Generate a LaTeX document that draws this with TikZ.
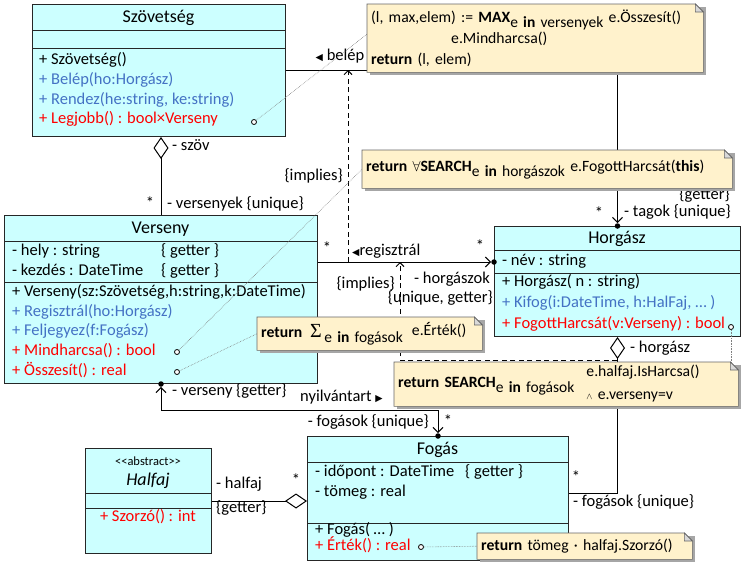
\documentclass[tikz,border=0pt]{standalone}
\usepackage{amsmath}
\usepackage{fontspec}
\setmainfont{Carlito}
\newfontfamily\symfont{DejaVu Sans}
\newfontfamily\sigmafont{Liberation Serif}
\usepackage{tikz}
\usetikzlibrary{positioning,arrows.meta,calc}

\definecolor{umlcyan}{RGB}{204,255,255}
\definecolor{noteyel}{RGB}{255,242,204}
\definecolor{umlblue}{RGB}{68,114,196}
\definecolor{umlred}{RGB}{255,0,0}

\newcommand{\lowsub}[1]{\raisebox{-5pt}{\fontsize{15.5}{16}\selectfont #1}}
\newcommand{\ltri}{{\symfont\fontsize{9.5}{9.5}\selectfont ◀}}
\newcommand{\rtri}{{\symfont\fontsize{9.5}{9.5}\selectfont ▶}}
\newcommand{\bigsigma}{{\sigmafont\fontsize{20}{20}\selectfont Σ}}

\pgfdeclarelayer{notebg}
\pgfdeclarelayer{front}
\pgfsetlayers{main,notebg,front}

\begin{document}
\begin{tikzpicture}[
    x=1pt, y=-1pt,
    font=\fontsize{16.5}{19}\selectfont,
    classbox/.style={draw=black!85, line width=1pt, fill=umlcyan, anchor=north west, inner sep=0pt},
    classline/.style={draw=black!85, line width=1pt},
    ctitle/.style={font=\fontsize{18}{20}\selectfont, inner sep=0pt},
    member/.style={anchor=west, inner sep=0pt, text height=11pt, text depth=3.5pt},
    lbl/.style={inner sep=0pt, text height=11pt, text depth=3.5pt},
    assoc/.style={line width=1pt},
    nav/.style={-{Straight Barb[length=5pt,width=10pt]}},
    navboth/.style={{Straight Barb[length=5pt,width=10pt]}-{Straight Barb[length=5pt,width=10pt]}},
    aggr/.style={{Diamond[open,length=22pt,width=15pt]}-},
    implies/.style={line width=1pt, dash pattern=on 5pt off 3.5pt, -{Straight Barb[length=4pt,width=8pt]}},
    ownerdot/.style={circle, fill, inner sep=0pt, minimum size=5.5pt},
    opcirc/.style={circle, draw, line width=0.8pt, fill=white, inner sep=0pt, minimum size=5pt},
    notelink/.style={densely dotted, gray, line width=0.6pt},
    notebox/.style={anchor=north west, inner xsep=4pt, inner ysep=0pt, align=left, font=\fontsize{15.7}{21}\selectfont},
    noteshape/.style={draw=black!60, line width=0.6pt, fill=noteyel},
]
\useasboundingbox (0,0) rectangle (746,573);

% classes
\node[classbox, minimum width=253pt, minimum height=132pt] (szov) at (32,4) {};
\draw[classline] ([yshift=-26pt]szov.north west) -- ([yshift=-26pt]szov.north east);
\draw[classline] ([yshift=-44pt]szov.north west) -- ([yshift=-44pt]szov.north east);
\node[ctitle] (szovT) at (158.5,18) {Szövetség};
\node[member] (szovM1) at (39,61) {+ Szövetség()};
\node[member, text=umlblue] (szovM2) at (39,81) {+ Belép(ho:Horgász)};
\node[member, text=umlblue] (szovM3) at (39,101) {+ Rendez(he:string,\ ke:string)};
\node[member, text=umlred] (szovM4) at (39,120) {+ Legjobb() : bool×Verseny};
\node[opcirc] (cLegjobb) at (254,122) {};

\node[classbox, minimum width=313pt, minimum height=168pt] (vers) at (4,215) {};
\draw[classline] ([yshift=-26pt]vers.north west) -- ([yshift=-26pt]vers.north east);
\draw[classline] ([yshift=-67pt]vers.north west) -- ([yshift=-67pt]vers.north east);
\node[ctitle] (versT) at (160.5,229) {Verseny};
\node[member] (versA1) at (12,252) {- hely : string};
\node[member] (versA1g) at (161,252) {\{ getter \}};
\node[member] (versA2) at (12,272) {- kezdés : DateTime};
\node[member] (versA2g) at (161,272) {\{ getter \}};
\node[member] (versM1) at (12,293) {+ Verseny(sz:Szövetség,h:string,k:DateTime)};
\node[member, text=umlblue] (versM2) at (12,313) {+ Regisztrál(ho:Horgász)};
\node[member, text=umlblue] (versM3) at (12,332) {+ Feljegyez(f:Fogász)};
\node[member, text=umlred] (versM4) at (12,352) {+ Mindharcsa() : bool};
\node[member, text=umlred] (versM5) at (12,372) {+ Összesít() : real};
\node[opcirc] (cMind) at (177,352) {};
\node[opcirc] (cOssz) at (177,372) {};

\node[classbox, minimum width=246pt, minimum height=110pt] (horg) at (494,226) {};
\draw[classline] ([yshift=-24pt]horg.north west) -- ([yshift=-24pt]horg.north east);
\draw[classline] ([yshift=-47pt]horg.north west) -- ([yshift=-47pt]horg.north east);
\node[ctitle] (horgT) at (617,239) {Horgász};
\node[member] (hnev) at (502,262) {- név : string};
\node[member] (horgM1) at (502,283) {+ Horgász( n : string)};
\node[member, text=umlblue] (horgM2) at (502,304) {+ Kifog(i:DateTime, h:HalFaj, … )};
\node[member, text=umlred] (horgM3) at (502,325) {+ FogottHarcsát(v:Verseny) : bool};
\node[opcirc] (cFogott) at (731,327) {};

\node[classbox, minimum width=261pt, minimum height=124pt] (fog) at (307,436) {};
\draw[classline] ([yshift=-26pt]fog.north west) -- ([yshift=-26pt]fog.north east);
\draw[classline] ([yshift=-87pt]fog.north west) -- ([yshift=-87pt]fog.north east);
\node[ctitle] (fogT) at (437.5,450) {Fogás};
\node[member] (fogA1) at (315,473) {- időpont : DateTime};
\node[member] (fogA1g) at (465,473) {\{ getter \}};
\node[member] (ftomeg) at (315,493) {- tömeg : real};
\node[member] (fogM1) at (315,531) {+ Fogás( … )};
\node[member, text=umlred] (fogM2) at (315,547) {+ Érték() : real};
\node[opcirc] (cErtek) at (421,547) {};

\node[classbox, minimum width=126pt, minimum height=105pt] (half) at (85,448) {};
\draw[classline] ([yshift=-45pt]half.north west) -- ([yshift=-45pt]half.north east);
\draw[classline] ([yshift=-60pt]half.north west) -- ([yshift=-60pt]half.north east);
\node[inner sep=0pt, font=\fontsize{12.5}{14}\selectfont] (halfS) at (148,461) {{<}{<}abstract{>}{>}};
\node[ctitle] (halfT) at (148,481) {\textit{Halfaj}};
\node[lbl, text=umlred] (halfM1) at (148,518) {+ Szorzó() : int};

% notes
\begin{pgfonlayer}{front}
\node[notebox, text width=328pt, minimum height=68pt] (nmax) at (367,4)
  {(l, max,elem) := \textbf{MAX}\lowsub{e \textbf{in} versenyek} e.Összesít()\\
   \hspace*{80pt}e.Mindharcsa()\\
   \textbf{return} (l, elem)};
\node[notebox, text width=362pt, minimum height=38pt] (nall) at (362,150)
  {\textbf{return} $\forall$\textbf{SEARCH}\lowsub{e \textbf{in} horgászok} e.FogottHarcsát(\textbf{this})};
\node[notebox, text width=217pt, minimum height=33pt] (nsum) at (257,317)
  {\textbf{return}\, \bigsigma\lowsub{\,e \textbf{in} fogások}\hspace{9pt}\raisebox{2pt}{e.Érték()}};
\node[notebox, text width=336pt, minimum height=44pt] (nsrch) at (394,362)
  {\textbf{return SEARCH}\lowsub{e \textbf{in} fogások}\hspace{12pt}\begin{tabular}{@{}l@{}}e.halfaj.IsHarcsa()\\[2pt] {\small$\wedge$} e.verseny=v\end{tabular}};
\node[notebox, text width=207pt, minimum height=26pt] (nert) at (477,533)
  {\textbf{return} tömeg · halfaj.Szorzó()};
\end{pgfonlayer}

\begin{pgfonlayer}{notebg}
\foreach \n in {nmax,nall,nsum,nsrch,nert}{
  \fill[black!35] ([shift={(3pt,-3pt)}]\n.south west) rectangle ([shift={(3pt,-3pt)}]\n.north east);
  \filldraw[noteshape] (\n.south west) -- (\n.north west) -- ([xshift=-8pt]\n.north east)
     -- ([yshift=-8pt]\n.north east) -- (\n.south east) -- cycle;
  \filldraw[noteshape, fill=black!15] ([xshift=-8pt]\n.north east) |- ([yshift=-8pt]\n.north east) -- cycle;
}
\end{pgfonlayer}

% associations
\node[ownerdot] (dTagok) at (horg.north) {};
\draw[assoc, nav] (szov.east) -| (dTagok.north);
\node[lbl] (lBelep) at (340,57) {\ltri\ belép};
\node[lbl, anchor=east] (lGetter1) at (730,196) {\{getter\}};
\node[lbl, anchor=west] (lTagok) at (624,213) {- tagok \{unique\}};
\node[lbl] (sTagok) at (599,215) {*};

\draw[assoc, aggr] (vers.north |- szov.south) -- (vers.north);
\node[lbl, anchor=west] (lSzov) at (172,147) {- szöv};
\node[lbl] (sVersenyek) at (150,205) {*};
\node[lbl, anchor=west] (lVersenyek) at (167,205) {- versenyek \{unique\}};

\node[ownerdot] (dHorg) at (horg.west |- hnev) {};
\draw[assoc, nav] (vers.east |- dHorg) -- (dHorg.west);
\node[lbl] (sReg1) at (327,250) {*};
\node[lbl, anchor=west] (lReg) at (352,252) {\ltri regisztrál};
\node[lbl] (sReg2) at (480,248) {*};
\node[lbl, anchor=east] (lHorgaszok) at (490,280) {- horgászok};
\node[lbl, anchor=east] (lHorgaszok2) at (493,299) {\{unique, getter\}};

\draw[assoc, aggr] (horg.south) |- (fog.east |- ftomeg);
\node[lbl, anchor=west] (lHorgasz) at (630,349) {- horgász};
\node[lbl] (sFog1) at (576,479) {*};
\node[lbl, anchor=west] (lFog1) at (573,503) {- fogások \{unique\}};

\draw[assoc, aggr] (fog.west |- half.east) -- (half.east);
\node[lbl, anchor=west] (lHalfaj) at (216,485) {- halfaj};
\node[lbl, anchor=west] (lHalfaj2) at (216,509) {\{getter\}};
\node[lbl] (sHalfaj) at (296,482) {*};

\node[ownerdot] (dVers) at (vers.south) {};
\node[ownerdot] (dFog) at (fog.north) {};
\draw[assoc, navboth] (dVers.south) -- (dVers |- 0,410) -| (dFog.north);
\node[lbl, anchor=west] (lVerseny) at (172,392) {- verseny \{getter\}};
\node[lbl, anchor=west] (lNyilv) at (300,398) {nyilvántart \rtri};
\node[lbl, anchor=east] (lFog2) at (429,423) {- fogások \{unique\}};
\node[lbl] (sFog2) at (448,423) {*};

% constraints
\coordinate (impRegA) at (348,262);
\coordinate (impBelA) at (348,70);
\draw[implies] (impRegA) -- (impBelA);
\node[lbl, anchor=east] (lImp1) at (343,177) {\{implies\}};
\coordinate (impHF) at (617,360);
\coordinate (impRegB) at (400,262);
\draw[implies] (impHF) -| (impRegB);
\node[lbl, anchor=east] (lImp2) at (395,285) {\{implies\}};

% note links
\draw[notelink] (cLegjobb) -- ([yshift=4pt]nmax.west);
\draw[notelink] (cMind) -- (nall.west);
\draw[notelink] (cOssz) -- (nsum.west);
\draw[notelink] (cFogott) -- (cFogott |- nsrch.north);
\draw[notelink] (cErtek) -- (nert.west);
\end{tikzpicture}
\end{document}
